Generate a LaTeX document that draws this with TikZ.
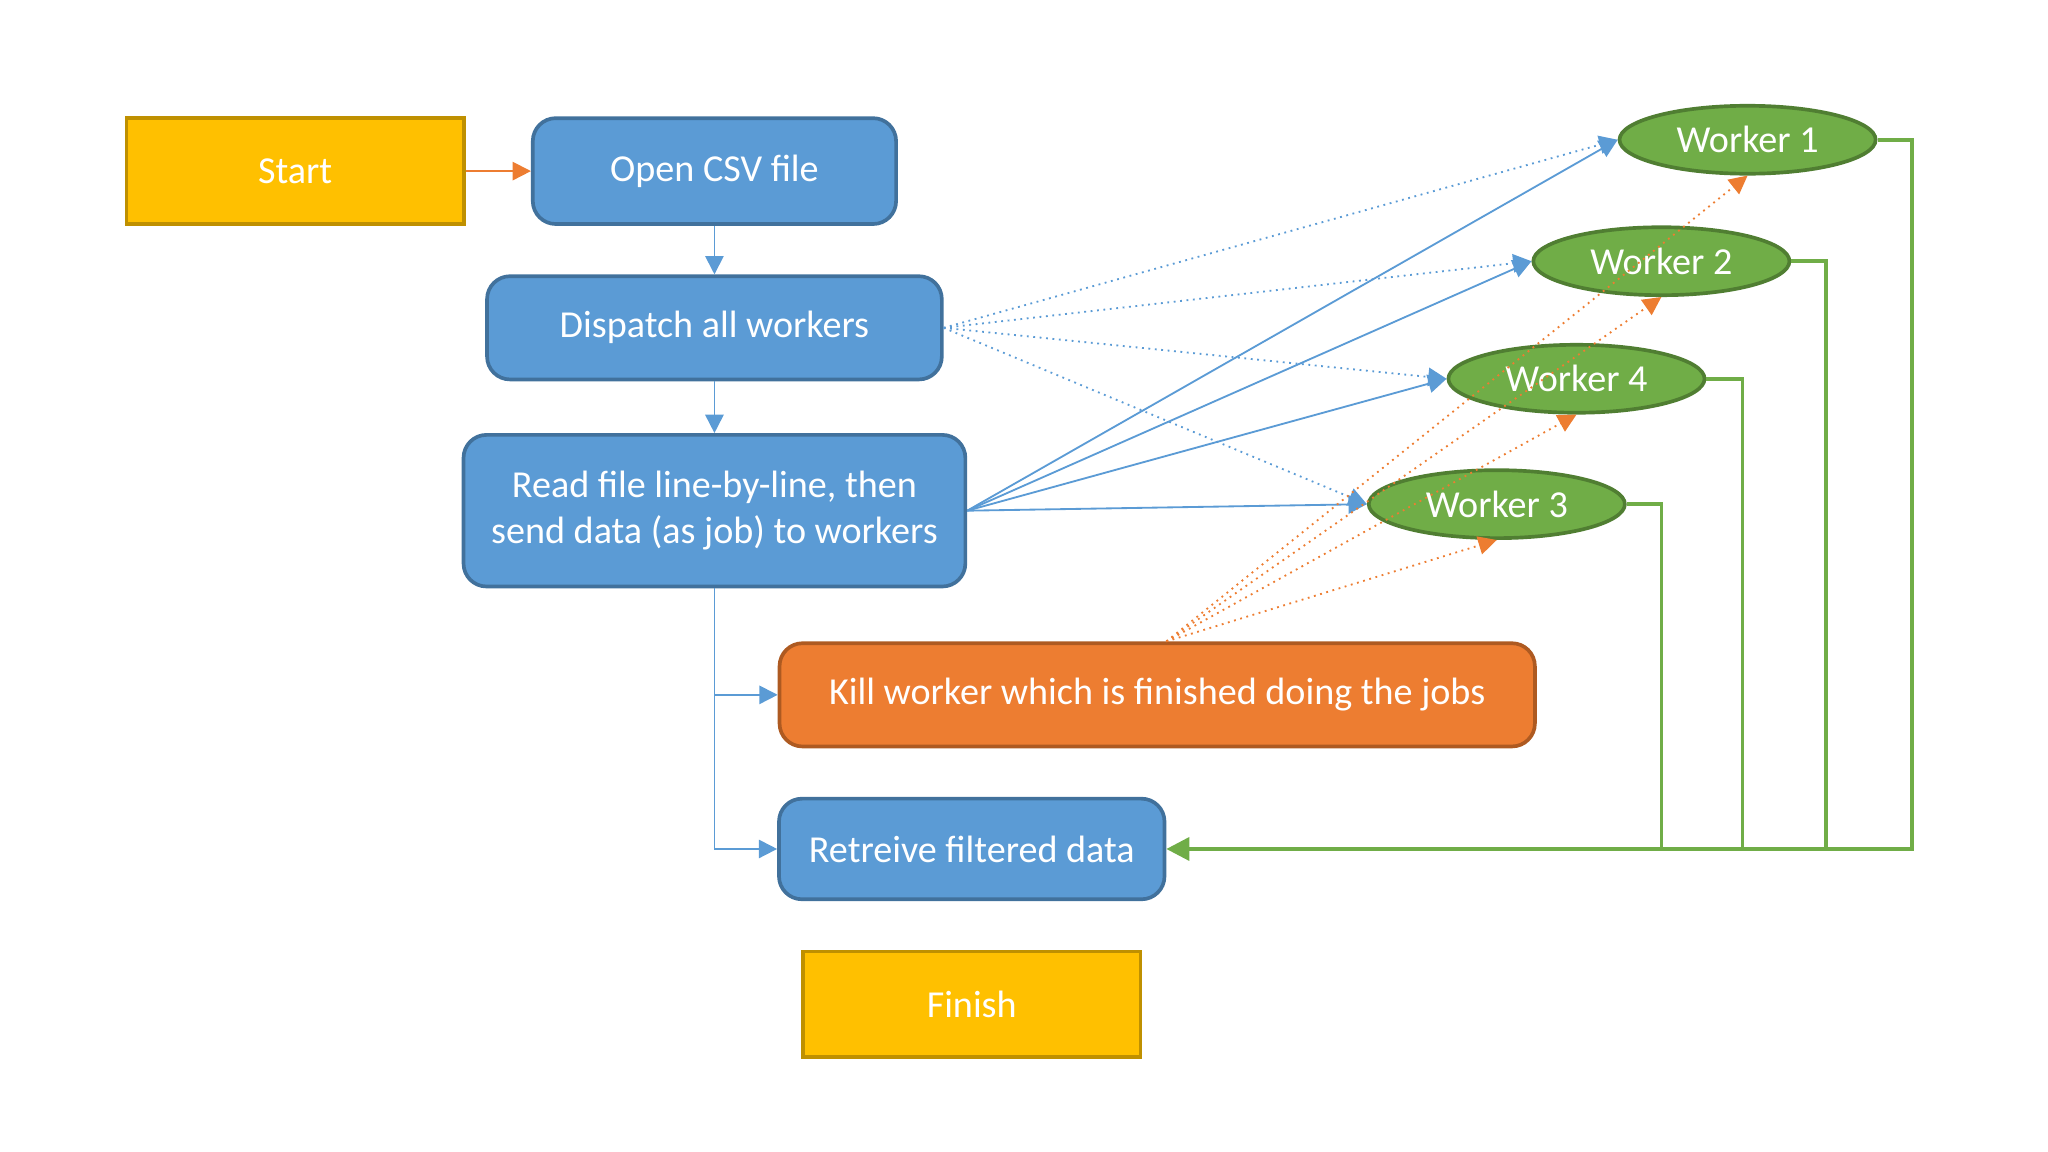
\documentclass[tikz,border=0pt]{standalone}
\usepackage{fontspec}
\setmainfont{Carlito}
\usetikzlibrary{shapes.geometric,arrows.meta}
\definecolor{bfill}{HTML}{5B9BD5}
\definecolor{bline}{HTML}{41719C}
\definecolor{ofill}{HTML}{ED7D31}
\definecolor{oline}{HTML}{AE5A21}
\definecolor{yfill}{HTML}{FFC000}
\definecolor{yline}{HTML}{BF9000}
\definecolor{gfill}{HTML}{70AD47}
\definecolor{gline}{HTML}{507E32}
\begin{document}
\begin{tikzpicture}[x=0.01cm,y=-0.01cm,
  every node/.style={font=\fontsize{8.3}{10}\selectfont, text=white, align=center},
  term/.style={draw=yline, fill=yfill, thick, minimum width=2.58cm, minimum height=0.81cm},
  proc/.style={draw=bline, fill=bfill, thick, rounded corners=5pt},
  kill/.style={draw=oline, fill=ofill, thick, rounded corners=5pt, minimum width=5.78cm, minimum height=0.79cm},
  worker/.style={ellipse, draw=gline, fill=gfill, thick, minimum width=1.96cm, minimum height=0.52cm, inner sep=0pt},
  barr/.style={draw=bfill, -{Triangle[length=4pt,width=4pt]}},
  bdot/.style={barr, densely dotted},
  odot/.style={draw=ofill, densely dotted, -{Triangle[length=4pt,width=4pt]}},
  gln/.style={draw=gfill, thick},
]
\useasboundingbox (0,0) rectangle (1568,882);
\node[term] (start) at (226,131) {Start};
\node[proc, minimum width=2.78cm, minimum height=0.81cm] (open) at (547,131) {Open CSV file};
\node[proc, minimum width=3.48cm, minimum height=0.79cm] (disp) at (547,251) {Dispatch all workers};
\node[proc, minimum width=3.84cm, minimum height=1.16cm] (read) at (547,391) {Read file line-by-line, then\\send data (as job) to workers};
\node[kill] (kill) at (886,532) {Kill worker which is finished doing the jobs};
\node[proc, minimum width=2.95cm, minimum height=0.77cm] (ret) at (744,650) {Retreive filtered data};
\node[term] (fin) at (744,769) {Finish};
\node[worker] (w1) at (1338,107) {Worker 1};
\node[worker] (w2) at (1272,200) {Worker 2};
\node[worker] (w4) at (1207,290) {Worker 4};
\node[worker] (w3) at (1146,386) {Worker 3};
\coordinate (rb) at (547,532);
\coordinate (g1) at (1464,650);
\coordinate (g2) at (1398,650);
\coordinate (g4) at (1334,650);
\coordinate (g3) at (1272,650);

\draw[draw=ofill, -{Triangle[length=4pt,width=4pt]}] (start) -- (open);
\draw[barr] (open) -- (disp);
\draw[barr] (disp) -- (read);
\draw[barr] (read.south) |- (ret.west);
\draw[barr] (rb) -- (kill.west);
\foreach \w in {w1,w2,w4,w3}{
  \draw[bdot] (disp.east) -- (\w.west);
  \draw[barr] (read.east) -- (\w.west);
}
\foreach \w in {w1,w2,w4,w3}{
  \draw[odot] ([xshift=2pt]kill.north) -- (\w.south);
}
\draw[gln] (w1.east) -| (g1) -- (g2);
\draw[gln] (w2.east) -| (g2) -- (g4);
\draw[gln] (w4.east) -| (g4) -- (g3);
\draw[gln] (w3.east) -| (g3);
\draw[gln, -{Triangle[length=5pt,width=5pt]}] (g3) -- (ret.east);
\end{tikzpicture}
\end{document}
